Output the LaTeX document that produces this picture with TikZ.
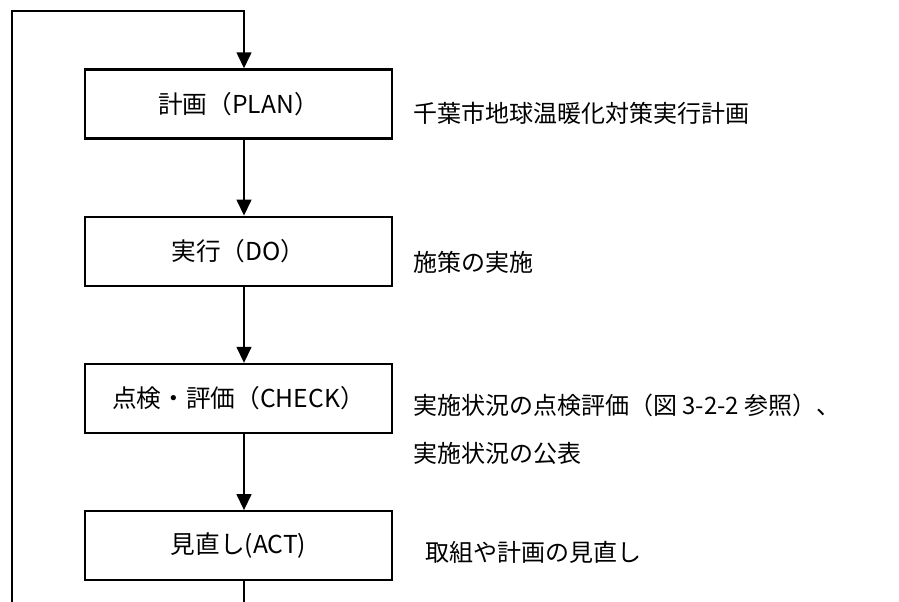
\documentclass[tikz,border=0pt]{standalone}
\usepackage{fontspec}
\setmainfont{Noto Sans CJK JP}
\usetikzlibrary{arrows.meta, positioning}

\begin{document}
\begin{tikzpicture}[
  x=0.75pt, y=-0.75pt,
  node distance=57pt,
  box/.style={rectangle, draw, line width=1.7pt, text centered,
              minimum width=230pt, minimum height=51.75pt,
              font=\fontsize{18.5pt}{22pt}\selectfont, fill=white},
  note/.style={inner sep=0pt, align=left,
              font=\fontsize{18pt}{36pt}\selectfont},
  arr/.style={-{Triangle[length=12pt, width=11pt]}, line width=1.7pt},
  wire/.style={line width=1.7pt}
]
\useasboundingbox (0,0) rectangle (899,602);

\node[box] (plan) at (238.5,104) {計画（PLAN）};
\node[box, below=of plan]  (do)    {実行（DO）};
\node[box, below=of do]    (check) {点検・評価（CHECK）};
\node[box, below=of check] (act)   {見直し(ACT)};

\node[note, right=15pt of plan, yshift=-7pt]   (plannote)  {千葉市地球温暖化対策実行計画};
\node[note, right=15pt of do, yshift=-8.5pt]   (donote)    {施策の実施};
\node[note, right=15pt of check, yshift=-23pt] (checknote) {実施状況の点検評価（図 3-2-2 参照）、\\実施状況の公表};
\node[note, right=24pt of act, yshift=-5pt]    (actnote)   {取組や計画の見直し};

% feedback loop
\coordinate (top)    at (244,11);
\coordinate (corner) at (12,11);
\coordinate (foot)   at (12,602);
\coordinate (tail)   at (244,602);

\draw[arr] (foot) -- (corner) -- (top) -- (plan.north -| top);
\draw[arr] (plan.south -| top)  -- (do.north -| top);
\draw[arr] (do.south -| top)    -- (check.north -| top);
\draw[arr] (check.south -| top) -- (act.north -| top);
\draw[wire] (act.south -| top)  -- (tail);
\end{tikzpicture}
\end{document}
